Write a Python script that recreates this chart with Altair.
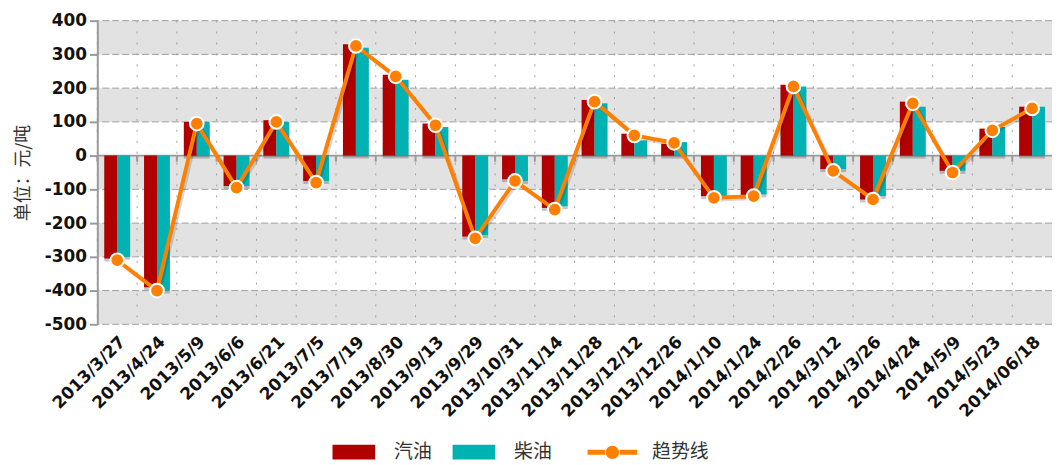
import altair as alt
import pandas as pd

dates = ["2013/3/27", "2013/4/24", "2013/5/9", "2013/6/6", "2013/6/21", "2013/7/5",
         "2013/7/19", "2013/8/30", "2013/9/13", "2013/9/29", "2013/10/31", "2013/11/14",
         "2013/11/28", "2013/12/12", "2013/12/26", "2014/1/10", "2014/1/24", "2014/2/26",
         "2014/3/12", "2014/3/26", "2014/4/24", "2014/5/9", "2014/5/23", "2014/06/18"]
gasoline = [-305, -390, 100, -90, 105, -75, 330, 240, 95, -240, -70, -155,
            165, 65, 35, -120, -120, 210, -40, -130, 160, -45, 80, 145]
diesel = [-300, -400, 100, -90, 100, -75, 320, 225, 85, -235, -75, -150,
          155, 45, 40, -120, -115, 205, -40, -120, 145, -45, 85, 145]
trend = [-310, -400, 95, -95, 100, -80, 325, 235, 90, -245, -75, -160,
         160, 60, 38, -125, -120, 205, -45, -130, 155, -50, 75, 140]

bar_series = ["汽油", "柴油"]
bar_colors = ["#B00000", "#00B2B2"]
trend_name = "趋势线"
trend_color = "#FF8000"
y_ticks = [-500, -400, -300, -200, -100, 0, 100, 200, 300, 400]
band_lo = [300, 100, -100, -300, -500]
band_hi = [400, 200, 0, -200, -400]

bars_df = pd.DataFrame({
    "date": dates * 2,
    "series": ["汽油"] * len(dates) + ["柴油"] * len(dates),
    "value": gasoline + diesel,
})
trend_df = pd.DataFrame({"date": dates, "value": trend, "series": [trend_name] * len(dates)})
bands_df = pd.DataFrame({"lo": band_lo, "hi": band_hi})
grid_df = pd.DataFrame({"v": y_ticks})
dates_df = pd.DataFrame({"date": dates})

FONT = "DejaVu Sans"
CJK = "Noto Sans CJK SC"

x_scale = alt.Scale(domain=dates, paddingInner=0, paddingOuter=0)
y_scale = alt.Scale(domain=[-500, 400], nice=False, zero=False)

x_axis = alt.Axis(title=None, labelAngle=-45, labelFont=FONT, labelFontWeight="bold",
                  labelFontSize=17, labelColor="#111", domain=False, ticks=False,
                  grid=False, labelPadding=9, labelOverlap=False)
y_axis = alt.Axis(title="单位：元/吨", values=y_ticks, labelFont=FONT, labelFontWeight="bold",
                  labelFontSize=17, labelColor="#111", domainColor="#9a9a9a", domainWidth=2,
                  tickColor="#9a9a9a", tickWidth=2, tickSize=8, labelPadding=3, grid=False,
                  labelOverlap=False, labelExpr="'' + datum.value",
                  titleFont=CJK, titleFontSize=18, titleFontWeight="normal", titleColor="#333",
                  titlePadding=12, zindex=1)

RECT_PATH = "M-1,-0.35H1V0.35H-1Z"
LINE_PATH = ("M-1,-0.1H-0.3V0.1H-1Z M0.3,-0.1H1V0.1H0.3Z "
             "M-0.27,0A0.27,0.27 0 1,0 0.27,0A0.27,0.27 0 1,0 -0.27,0Z")

bar_legend = alt.Legend(orient="none", legendX=237, legendY=413, direction="horizontal",
                        title=None, symbolSize=1849, symbolStrokeWidth=0, symbolType=RECT_PATH,
                        labelFont=CJK, labelFontSize=19, labelColor="#333", labelOffset=19,
                        columnPadding=20)
trend_legend = alt.Legend(orient="none", legendX=494, legendY=410, direction="horizontal",
                          title=None, symbolSize=2500, symbolStrokeWidth=0,
                          symbolFillColor=trend_color, symbolOpacity=1,
                          labelFont=CJK, labelFontSize=19, labelColor="#333", labelOffset=15)


def X(**kw):
    return alt.X("date:N", scale=x_scale, sort=dates, axis=x_axis, **kw)


def Y(field):
    return alt.Y(field, scale=y_scale, axis=y_axis)


bands = alt.Chart(bands_df).mark_rect(color="#e2e2e2").encode(y=Y("lo:Q"), y2="hi:Q")

vgrid = alt.Chart(dates_df).mark_rule(color="#a0a0a0", strokeDash=[2, 9], strokeWidth=1).encode(
    x=X(bandPosition=0))

hgrid = alt.Chart(grid_df).mark_rule(color="#a0a0a0", strokeDash=[7, 3], strokeWidth=1).encode(
    y=Y("v:Q"))

zero = alt.Chart(grid_df).transform_filter("datum.v === 0").mark_rule(
    color="#9a9a9a", strokeWidth=2).encode(y=Y("v:Q"))

zero_ticks = alt.Chart(dates_df).transform_calculate(t0="0", t1="-18").mark_rule(
    color="#9a9a9a", strokeWidth=2).encode(
    x=X(bandPosition=0), y=Y("t0:Q"), y2="t1:Q")

xoff_scale = alt.Scale(domain=bar_series, paddingOuter=0.54, paddingInner=0)

shadow = alt.Chart(bars_df).mark_bar(color="#000000", opacity=0.22, xOffset=3, yOffset=3).encode(
    x=X(), xOffset=alt.XOffset("series:N", scale=xoff_scale), y=Y("value:Q"))

bars = alt.Chart(bars_df).mark_bar().encode(
    x=X(), xOffset=alt.XOffset("series:N", scale=xoff_scale), y=Y("value:Q"),
    color=alt.Color("series:N", scale=alt.Scale(domain=bar_series, range=bar_colors),
                    legend=bar_legend))

line_shadow = alt.Chart(trend_df).mark_line(color="#000000", opacity=0.15, strokeWidth=4,
                                            xOffset=2, yOffset=2).encode(x=X(), y=Y("value:Q"))

line = alt.Chart(trend_df).mark_line(color=trend_color, strokeWidth=4).encode(x=X(), y=Y("value:Q"))

points = alt.Chart(trend_df).mark_point(filled=True, fill=trend_color, stroke="#ffffff",
                                        strokeWidth=2, size=190, opacity=1, shape="circle").encode(
    x=X(), y=Y("value:Q"))

legend_carrier = alt.Chart(trend_df).transform_filter("false").mark_point(
    filled=True, color=trend_color, opacity=1).encode(
    x=X(), y=Y("value:Q"),
    shape=alt.Shape("series:N", scale=alt.Scale(domain=[trend_name], range=[LINE_PATH]),
                    legend=trend_legend))

chart = alt.layer(bands, vgrid, hgrid, zero, zero_ticks, shadow, bars, line_shadow, line, points,
                  legend_carrier).properties(
    width=962, height=306,
    autosize=alt.AutoSizeParams(type="none"),
    padding={"left": 90, "top": 11, "right": 0, "bottom": 140},
).configure_view(stroke=None).configure_axisY(labelOverlap=False)

chart.save("out.html", embed_options={"renderer": "svg", "actions": False})
